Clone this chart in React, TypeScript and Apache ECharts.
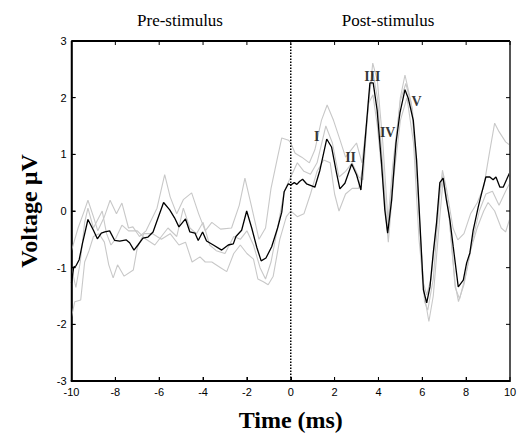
import React, { useEffect, useRef } from "react";
import * as echarts from "echarts";

// Main averaged waveform (black)
const avgTime = [-10, -9.9, -9.8, -9.65, -9.5, -9.25, -9.0, -8.82, -8.64, -8.48, -8.26, -8.03, -7.8, -7.5, -7.35, -7.15, -6.97, -6.74, -6.51, -6.28, -6.05, -5.8, -5.52, -5.3, -5.1, -4.8, -4.6, -4.37, -4.22, -4.02, -3.84, -3.53, -3.15, -2.85, -2.62, -2.5, -2.24, -2.01, -1.78, -1.55, -1.35, -1.13, -0.87, -0.6, -0.41, -0.3, -0.11, 0.0, 0.16, 0.28, 0.4, 0.54, 0.72, 1.1, 1.33, 1.64, 1.86, 2.09, 2.24, 2.47, 2.78, 3.0, 3.2, 3.38, 3.61, 3.76, 3.94, 4.14, 4.29, 4.42, 4.6, 4.8, 4.98, 5.21, 5.36, 5.59, 5.74, 5.9, 6.05, 6.2, 6.35, 6.5, 6.65, 6.8, 6.95, 7.1, 7.26, 7.41, 7.64, 7.87, 8.02, 8.17, 8.32, 8.55, 8.71, 8.9, 9.08, 9.23, 9.36, 9.54, 9.69, 9.84, 10];
const avgVolt = [-1.27, -0.99, -0.97, -0.86, -0.57, -0.15, -0.34, -0.49, -0.39, -0.37, -0.35, -0.52, -0.53, -0.51, -0.56, -0.69, -0.6, -0.48, -0.46, -0.37, -0.12, 0.15, 0.02, -0.12, -0.28, -0.14, -0.37, -0.39, -0.52, -0.37, -0.53, -0.6, -0.69, -0.6, -0.58, -0.45, -0.34, 0.0, -0.3, -0.64, -0.88, -0.83, -0.63, -0.3, -0.02, 0.34, 0.48, 0.46, 0.5, 0.47, 0.52, 0.56, 0.48, 0.42, 0.72, 1.27, 1.13, 0.67, 0.39, 0.49, 0.83, 0.64, 0.37, 1.2, 2.26, 2.26, 1.78, 0.85, 0.02, -0.39, 0.19, 1.2, 1.73, 2.14, 1.99, 1.6, 0.9, -0.28, -1.39, -1.62, -1.34, -0.74, -0.21, 0.5, 0.58, 0.19, -0.16, -0.63, -1.34, -1.22, -0.92, -0.74, -0.34, 0.07, 0.32, 0.6, 0.6, 0.55, 0.6, 0.42, 0.42, 0.55, 0.69];

// Individual trials (grey)
const trialATime = [-10, -9.7, -9.4, -9.25, -9.0, -8.8, -8.5, -8.24, -7.95, -7.7, -7.4, -7.2, -6.9, -6.6, -6.1, -5.75, -5.5, -5.2, -4.9, -4.52, -4.2, -3.9, -3.6, -3.2, -2.7, -2.35, -2.09, -1.8, -1.45, -1.15, -0.9, -0.6, -0.41, -0.1, 0.0, 0.2, 0.5, 0.85, 1.1, 1.4, 1.66, 1.95, 2.25, 2.5, 2.8, 3.0, 3.25, 3.5, 3.74, 3.95, 4.2, 4.45, 4.7, 5.0, 5.21, 5.5, 5.8, 6.0, 6.2, 6.4, 6.7, 6.92, 7.1, 7.4, 7.62, 7.9, 8.2, 8.5, 8.8, 9.05, 9.3, 9.5, 9.8, 10];
const trialAVolt = [-0.7, -0.3, 0.02, 0.19, -0.1, -0.35, -0.1, 0.19, -0.05, 0.14, -0.3, -0.28, -0.45, -0.35, 0.05, 0.64, 0.25, -0.05, 0.2, 0.32, -0.05, -0.35, -0.2, -0.32, -0.3, 0.1, 0.58, 0.1, -0.5, -0.3, 0.4, 0.95, 1.29, 1.25, 1.2, 1.02, 0.95, 0.85, 1.08, 1.6, 1.87, 1.6, 1.25, 0.95, 1.1, 1.2, 0.85, 1.7, 2.61, 2.3, 1.2, -0.25, 0.8, 2.0, 2.4, 1.9, 0.4, -1.2, -1.48, -1.2, 0.0, 0.72, 0.4, -0.3, -0.51, -0.4, -0.05, 0.14, 0.42, 1.0, 1.55, 1.4, 1.22, 1.16];

const trialBTime = [-10, -9.85, -9.58, -9.4, -9.2, -9.0, -8.75, -8.5, -8.3, -8.1, -7.9, -7.6, -7.18, -7.0, -6.7, -6.3, -5.9, -5.5, -5.1, -4.8, -4.5, -4.14, -3.9, -3.6, -3.2, -2.92, -2.6, -2.3, -2.0, -1.7, -1.5, -1.25, -1.03, -0.8, -0.5, -0.2, 0.0, 0.3, 0.6, 0.9, 1.2, 1.5, 1.8, 2.0, 2.2, 2.5, 2.8, 3.1, 3.3, 3.55, 3.75, 3.95, 4.2, 4.45, 4.7, 5.0, 5.3, 5.6, 5.85, 6.1, 6.3, 6.5, 6.8, 6.95, 7.2, 7.5, 7.65, 7.9, 8.2, 8.5, 8.8, 9.0, 9.3, 9.6, 9.8, 10];
const trialBVolt = [-1.87, -1.6, -1.57, -0.9, -0.7, -0.45, -0.4, -0.55, -0.95, -1.18, -0.95, -1.15, -1.04, -0.65, -0.4, -0.4, -0.5, -0.4, -0.6, -0.55, -0.9, -0.81, -0.9, -0.9, -1.0, -1.07, -0.75, -0.6, -0.75, -0.85, -1.2, -1.25, -1.3, -1.15, -0.5, -0.1, 0.0, -0.1, -0.05, 0.3, 0.7, 0.9, 0.85, 0.3, 0.0, 0.3, 0.4, 0.4, 0.8, 1.9, 2.05, 1.5, 0.5, -0.55, 0.6, 1.6, 2.0, 1.2, -0.5, -1.5, -1.95, -1.5, -0.1, 0.55, 0.0, -1.3, -1.6, -1.3, -0.7, -0.3, 0.0, 0.15, 0.0, -0.3, -0.37, -0.12];

const trialCTime = [-10, -9.8, -9.6, -9.4, -9.25, -9.0, -8.8, -8.6, -8.4, -8.2, -8.0, -7.7, -7.4, -7.0, -6.6, -6.2, -5.9, -5.6, -5.2, -4.9, -4.6, -4.3, -4.0, -3.7, -3.4, -3.0, -2.6, -2.3, -2.0, -1.7, -1.4, -1.15, -0.9, -0.6, -0.3, 0.0, 0.3, 0.6, 0.9, 1.2, 1.6, 1.9, 2.2, 2.5, 2.8, 3.1, 3.3, 3.55, 3.75, 3.95, 4.2, 4.4, 4.65, 5.0, 5.25, 5.55, 5.85, 6.1, 6.25, 6.5, 6.8, 6.95, 7.2, 7.5, 7.7, 8.0, 8.3, 8.6, 8.9, 9.2, 9.5, 9.8, 10];
const trialCVolt = [-1.0, -1.35, -0.9, -0.2, 0.05, -0.3, -0.15, 0.0, -0.4, -0.6, -0.5, -0.25, -0.35, -0.35, -0.5, -0.6, -0.45, -0.3, -0.45, 0.05, -0.3, -0.4, -0.2, -0.6, -0.7, -0.75, -0.45, -0.5, -0.35, -0.6, -1.0, -1.2, -0.9, -0.3, 0.35, 0.6, 0.85, 0.7, 0.65, 0.85, 1.5, 1.2, 0.6, 0.7, 0.85, 0.6, 0.55, 2.0, 2.45, 2.0, 0.8, -0.35, 0.8, 1.95, 2.25, 1.8, 0.0, -1.6, -1.75, -1.2, 0.3, 0.65, 0.0, -1.35, -1.55, -1.1, -0.5, 0.0, 0.3, 0.35, 0.1, 0.35, 0.5];

// Wave labels
const waveNames = ["I", "II", "III", "IV", "V"];
const waveTime = [1.18, 2.73, 3.72, 4.42, 5.74];
const waveVolt = [1.32, 0.95, 2.38, 1.39, 1.94];

// Stimulus onset marker
const onsetTime = [0, 0];
const onsetVolt = [-3, 3];

const xTicks = { min: -10, max: 10, interval: 2 };
const yTicks = { min: -3, max: 3, interval: 1 };

const W = 518;
const H = 436;
const GRID = { left: 71.5, right: 8, top: 41, bottom: 55 };

const pair = (t: number[], v: number[]) => t.map((x, i) => [x, v[i]]);

export default function App() {
  const ref = useRef<HTMLDivElement>(null);
  useEffect(() => {
    if (!ref.current) return;
    const chart = echarts.init(ref.current, null, { renderer: "svg" });
    const tickFont = { fontFamily: "Liberation Sans", fontSize: 11, color: "#000" };
    const greyLine = { color: "#c8c8c8", width: 1.1 };

    // plot frame (layout only)
    const x0 = GRID.left, x1 = W - GRID.right, y0 = GRID.top, y1 = H - GRID.bottom;
    const seg = (ax: number, ay: number, bx: number, by: number, stroke: string, lineWidth: number) => ({
      type: "line", silent: true, z: 20,
      shape: { x1: ax, y1: ay, x2: bx, y2: by },
      style: { stroke, lineWidth },
    });
    const frame: any[] = [
      seg(x0, y0, x1, y0, "#000", 2),
      seg(x1, y0, x1, y1, "#555", 2),
      seg(x0, y0, x0, y1, "#000", 1.5),
      seg(x0, y1, x1, y1, "#000", 2),
    ];
    const nx = Math.round((xTicks.max - xTicks.min) / xTicks.interval);
    for (let i = 0; i <= nx; i++) {
      const px = x0 + ((x1 - x0) * i) / nx;
      frame.push(seg(px, y0, px, y0 + 4, "#000", 1));
      frame.push(seg(px, y1, px, y1 - 4, "#000", 1));
    }
    const ny = Math.round((yTicks.max - yTicks.min) / yTicks.interval);
    for (let i = 0; i <= ny; i++) {
      const py = y0 + ((y1 - y0) * i) / ny;
      frame.push(seg(x0, py, x0 + 4, py, "#000", 1));
      frame.push(seg(x1, py, x1 - 4, py, "#000", 1));
    }

    chart.setOption({
      animation: false,
      grid: { ...GRID, outerBoundsMode: "none", containLabel: false },
      xAxis: [
        {
          type: "value", position: "bottom", ...xTicks,
          axisLine: { show: true, onZero: false, lineStyle: { color: "#000", width: 2 } },
          axisTick: { show: true, inside: true, length: 4, lineStyle: { color: "#000" } },
          axisLabel: { ...tickFont, margin: 5, showMaxLabel: true, showMinLabel: true, hideOverlap: false },
          splitLine: { show: false },
          name: "Time (ms)", nameLocation: "middle", nameGap: 27,
          nameTextStyle: { fontFamily: "Liberation Serif", fontWeight: "bold", fontSize: 24, color: "#000" },
        },
        {
          type: "value", position: "top", ...xTicks,
          axisLine: { show: false }, axisTick: { show: false }, axisLabel: { show: false }, splitLine: { show: false },
        },
      ],
      yAxis: [
        {
          type: "value", position: "left", ...yTicks,
          axisLine: { show: true, onZero: false, lineStyle: { color: "#000", width: 1.5 } },
          axisTick: { show: true, inside: true, length: 4, lineStyle: { color: "#000" } },
          axisLabel: { ...tickFont, margin: 5 },
          splitLine: { show: false },
          name: "Voltage µV", nameLocation: "middle", nameGap: 31, nameRotate: 90,
          nameTextStyle: { fontFamily: "Liberation Serif", fontWeight: "bold", fontSize: 24, color: "#000" },
        },
        {
          type: "value", position: "right", ...yTicks,
          axisLine: { show: false }, axisTick: { show: false }, axisLabel: { show: false }, splitLine: { show: false },
        },
      ],
      series: [
        { type: "line", data: pair(trialATime, trialAVolt), showSymbol: false, lineStyle: greyLine, z: 2 },
        { type: "line", data: pair(trialBTime, trialBVolt), showSymbol: false, lineStyle: greyLine, z: 2 },
        { type: "line", data: pair(trialCTime, trialCVolt), showSymbol: false, lineStyle: greyLine, z: 2 },
        {
          type: "line", xAxisIndex: 1, yAxisIndex: 1, data: pair(onsetTime, onsetVolt), showSymbol: false, z: 3,
          lineStyle: { color: "#000", width: 1.5, type: [1.5, 1.5] },
        },
        { type: "line", data: pair(avgTime, avgVolt), showSymbol: false, z: 4, lineStyle: { color: "#000", width: 1.3 } },
        {
          type: "scatter", symbolSize: 0, z: 5,
          data: waveNames.map((n, i) => ({ name: n, value: [waveTime[i], waveVolt[i]] })),
          label: {
            show: true, position: "inside", formatter: "{b}",
            fontFamily: "Liberation Serif", fontWeight: "bold", fontSize: 14, color: "#000",
          },
        },
      ],
      graphic: [
        { type: "text", x: 180, y: 20, style: { text: "Pre-stimulus", font: "17px 'Liberation Serif'", fill: "#000", textAlign: "center", textVerticalAlign: "middle" } },
        { type: "text", x: 388, y: 20, style: { text: "Post-stimulus", font: "17px 'Liberation Serif'", fill: "#000", textAlign: "center", textVerticalAlign: "middle" } },
        ...frame,
      ],
    });
    return () => chart.dispose();
  }, []);
  return <div ref={ref} style={{ position: "absolute", left: 0, top: 0, width: W, height: H }} />;
}
